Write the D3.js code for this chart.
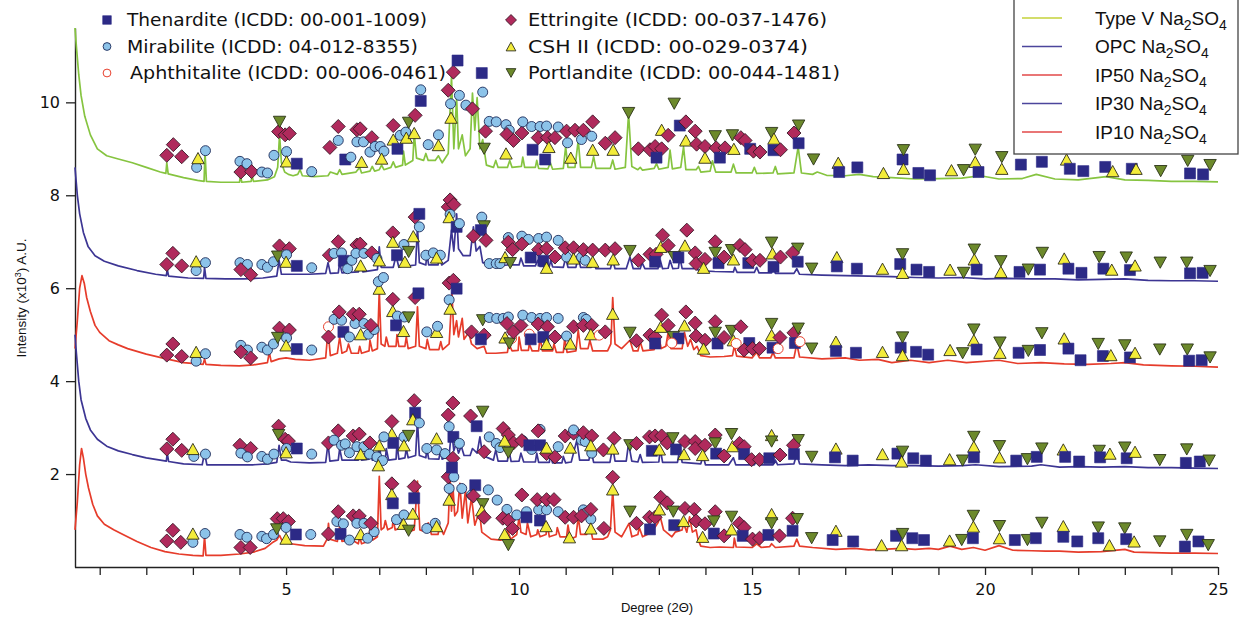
<!DOCTYPE html>
<html><head><meta charset="utf-8">
<script src="https://cdn.jsdelivr.net/npm/d3@7"></script>
<style>body{margin:0;background:#fff}svg{display:block}</style>
</head><body>
<svg id="chart" width="1243" height="623"></svg>
<script>
// ---------- DATA ----------
const xMinorTicks = [1,2,3,4,5,6,7,8,9,10,11,12,13,14,15,16,17,18,19,20,21,22,23,24,25];
const xTickLabels = [5,10,15,20,25];
const yTickLabels = [2,4,6,8,10];

const seriesNames = ["Type V", "OPC", "IP50", "IP30", "IP10"];
const seriesColors = ["#86c440", "#3c3593", "#e63c2b", "#3c3593", "#e63c2b"];
const legendLineColors = ["#c4d23a", "#4b469c", "#e24848", "#4b469c", "#e24848"];

const phaseNames = ["Thenardite (ICDD: 00-001-1009)", "Mirabilite (ICDD: 04-012-8355)", "Aphthitalite (ICDD: 00-006-0461)",
  "Ettringite (ICDD: 00-037-1476)", "CSH II (ICDD: 00-029-0374)", "Portlandite (ICDD: 00-044-1481)"];
const phaseCodes = ["T","M","A","E","C","P"];

const traceTypeV = [[0.47,11.6],[0.5,11.2],[0.55,10.6],[0.6,10.15],[0.68,9.7],[0.8,9.3],[0.95,9.0],[1.15,8.85],[1.4,8.78],[1.7,8.7],[2.0,8.6],[2.3,8.5],[2.42,8.47],[2.44,8.7],[2.47,8.46],[2.8,8.38],[3.1,8.32],[3.24,8.3],[3.26,8.95],[3.29,8.3],[3.6,8.28],[4.0,8.28],[4.02,8.42],[4.05,8.28],[4.25,8.3],[4.27,8.42],[4.3,8.3],[4.6,8.33],[4.75,8.4],[4.82,8.6],[4.86,9.3],[4.9,8.7],[4.97,8.5],[5.05,8.45],[5.15,8.42],[5.25,8.45],[5.3,8.55],[5.35,8.42],[5.6,8.4],[5.9,8.42],[5.95,8.5],[6.1,8.45],[6.15,8.55],[6.2,8.45],[6.5,8.5],[6.58,8.6],[6.62,8.48],[6.8,8.52],[6.85,8.62],[6.9,8.52],[7.0,8.55],[7.05,8.65],[7.1,8.55],[7.25,8.6],[7.3,8.72],[7.35,8.6],[7.5,8.65],[7.52,8.95],[7.56,8.65],[7.72,8.75],[7.75,9.33],[7.8,8.8],[7.95,8.75],[8.0,8.9],[8.05,8.75],[8.2,8.75],[8.27,8.85],[8.35,8.7],[8.48,8.9],[8.55,10.55],[8.6,9.0],[8.66,10.1],[8.7,9.0],[8.78,9.3],[8.85,8.85],[8.95,9.0],[9.0,10.2],[9.05,9.4],[9.1,10.1],[9.16,9.0],[9.22,9.2],[9.3,8.65],[9.45,8.6],[9.5,8.75],[9.55,8.6],[9.75,8.6],[9.8,8.75],[9.85,8.6],[10.05,8.62],[10.08,8.82],[10.12,8.6],[10.35,8.6],[10.38,8.75],[10.42,8.58],[10.62,8.57],[10.67,8.7],[10.72,8.56],[10.95,8.58],[11.0,9.04],[11.05,8.6],[11.2,8.6],[11.27,9.18],[11.32,8.6],[11.55,8.6],[11.6,8.83],[11.65,8.58],[11.96,8.58],[12.01,8.76],[12.06,8.56],[12.28,8.6],[12.35,9.76],[12.42,8.62],[12.55,8.55],[12.6,8.6],[12.65,8.54],[12.9,8.58],[12.95,8.68],[13.0,8.56],[13.2,8.6],[13.24,8.97],[13.29,8.57],[13.47,8.6],[13.53,9.04],[13.58,8.55],[13.8,8.55],[13.85,8.62],[13.9,8.5],[14.1,8.52],[14.15,8.74],[14.22,8.5],[14.55,8.5],[14.6,8.67],[14.66,8.48],[15.0,8.48],[15.05,8.6],[15.1,8.47],[15.45,8.48],[15.5,8.62],[15.55,8.46],[15.9,8.48],[15.99,9.04],[16.06,8.48],[16.3,8.45],[16.4,8.5],[16.6,8.43],[17.0,8.42],[17.3,8.45],[17.6,8.4],[18.0,8.38],[18.5,8.35],[19.0,8.36],[19.5,8.37],[19.9,8.42],[20.3,8.35],[20.8,8.36],[21.1,8.45],[21.5,8.35],[22.0,8.33],[22.6,8.4],[23.0,8.33],[23.5,8.32],[24.0,8.3],[24.5,8.3],[25.0,8.29]];

const traceOPC = [[0.47,8.6],[0.52,8.0],[0.57,7.6],[0.65,7.2],[0.75,6.9],[0.9,6.7],[1.1,6.58],[1.4,6.48],[1.8,6.38],[2.2,6.3],[2.43,6.27],[2.45,6.4],[2.48,6.26],[2.9,6.22],[3.23,6.21],[3.25,6.45],[3.28,6.21],[3.7,6.2],[4.1,6.2],[4.5,6.22],[4.8,6.26],[4.85,6.6],[4.9,6.3],[5.2,6.3],[5.5,6.3],[5.85,6.32],[5.9,6.55],[5.95,6.32],[6.12,6.33],[6.15,6.55],[6.2,6.33],[6.55,6.35],[6.6,6.5],[6.65,6.35],[6.96,6.4],[7.0,6.89],[7.04,6.45],[7.3,6.45],[7.36,6.7],[7.42,6.45],[7.55,6.5],[7.58,6.62],[7.62,6.48],[7.78,6.5],[7.82,7.32],[7.86,6.55],[8.0,6.5],[8.02,6.75],[8.06,6.5],[8.26,6.5],[8.3,6.68],[8.34,6.5],[8.48,6.6],[8.55,7.25],[8.6,6.8],[8.66,7.6],[8.7,6.85],[8.8,6.7],[8.95,6.7],[9.02,7.32],[9.08,6.8],[9.16,6.9],[9.22,6.55],[9.4,6.5],[9.55,6.48],[9.75,6.5],[9.78,6.65],[9.83,6.5],[10.0,6.5],[10.04,6.65],[10.1,6.48],[10.35,6.48],[10.4,6.6],[10.45,6.47],[10.65,6.47],[10.68,6.6],[10.72,6.46],[10.95,6.45],[11.0,6.65],[11.05,6.45],[11.22,6.45],[11.27,6.67],[11.32,6.45],[11.55,6.45],[11.6,6.55],[11.65,6.42],[11.96,6.42],[12.01,6.6],[12.06,6.42],[12.3,6.42],[12.38,6.67],[12.45,6.42],[12.6,6.42],[12.64,6.55],[12.7,6.42],[12.98,6.42],[13.03,6.6],[13.08,6.42],[13.2,6.43],[13.24,6.6],[13.3,6.42],[13.42,6.43],[13.45,6.67],[13.5,6.42],[13.75,6.42],[13.78,6.5],[13.85,6.38],[14.2,6.36],[14.6,6.35],[14.63,6.45],[14.68,6.34],[15.05,6.34],[15.1,6.45],[15.15,6.33],[15.42,6.33],[15.46,6.48],[15.5,6.32],[15.9,6.32],[15.96,6.42],[16.02,6.3],[16.5,6.28],[17.0,6.27],[17.5,6.26],[18.0,6.25],[18.5,6.23],[19.0,6.22],[19.5,6.23],[20.0,6.2],[20.5,6.21],[21.0,6.2],[21.5,6.2],[22.0,6.18],[22.5,6.19],[23.0,6.2],[23.5,6.17],[24.0,6.16],[24.5,6.16],[25.0,6.15]];

const traceIP50 = [[0.47,4.7],[0.52,5.3],[0.57,6.0],[0.62,6.27],[0.67,6.1],[0.72,5.8],[0.8,5.5],[0.9,5.2],[1.0,5.05],[1.2,4.87],[1.4,4.78],[1.6,4.7],[2.0,4.58],[2.43,4.48],[2.45,4.6],[2.48,4.47],[2.8,4.4],[3.22,4.36],[3.25,4.48],[3.28,4.36],[3.6,4.34],[4.0,4.33],[4.3,4.35],[4.6,4.4],[4.64,4.62],[4.68,4.42],[4.85,4.48],[5.0,4.5],[5.2,4.47],[5.5,4.45],[5.85,4.5],[5.9,5.1],[5.95,4.55],[6.1,4.6],[6.15,4.95],[6.2,4.6],[6.3,4.65],[6.34,4.8],[6.4,4.6],[6.55,4.6],[6.58,4.75],[6.62,4.6],[6.78,4.65],[6.8,4.88],[6.85,4.65],[6.96,4.7],[7.0,5.95],[7.04,4.8],[7.12,4.75],[7.15,4.95],[7.2,4.75],[7.36,4.75],[7.38,5.0],[7.42,4.75],[7.55,4.75],[7.58,4.95],[7.62,4.7],[7.78,4.75],[7.82,5.6],[7.86,4.75],[8.0,4.7],[8.03,4.9],[8.08,4.68],[8.28,4.68],[8.32,4.85],[8.36,4.68],[8.5,4.8],[8.56,5.9],[8.6,5.0],[8.66,5.3],[8.7,4.95],[8.78,5.35],[8.82,4.9],[8.92,5.05],[8.98,4.8],[9.1,4.7],[9.25,4.75],[9.3,4.6],[9.5,4.6],[9.75,4.62],[9.78,4.8],[9.85,4.65],[9.98,4.66],[10.0,4.95],[10.05,4.66],[10.2,4.66],[10.22,4.8],[10.28,4.65],[10.42,4.65],[10.45,4.95],[10.5,4.65],[10.72,4.65],[10.75,4.8],[10.8,4.62],[10.95,4.62],[10.98,4.92],[11.03,4.62],[11.22,4.65],[11.27,5.1],[11.32,4.7],[11.48,4.7],[11.52,4.88],[11.58,4.65],[11.9,4.65],[11.97,4.8],[12.01,5.8],[12.06,4.8],[12.2,4.7],[12.38,4.88],[12.45,4.65],[12.55,4.65],[12.6,4.85],[12.66,4.65],[12.9,4.68],[13.0,4.95],[13.05,4.7],[13.15,4.75],[13.2,5.05],[13.26,4.7],[13.5,4.7],[13.55,5.05],[13.62,4.75],[13.68,4.9],[13.75,4.68],[13.82,4.75],[13.9,4.55],[14.1,4.52],[14.4,4.53],[14.58,4.55],[14.62,4.76],[14.67,4.54],[15.0,4.5],[15.1,4.62],[15.16,4.5],[15.4,4.5],[15.45,4.62],[15.5,4.5],[15.9,4.5],[15.96,4.81],[16.02,4.52],[16.5,4.48],[17.0,4.5],[17.3,4.45],[17.7,4.47],[18.0,4.4],[18.4,4.45],[18.8,4.4],[19.2,4.45],[19.6,4.4],[20.3,4.45],[20.7,4.38],[21.2,4.4],[21.7,4.37],[22.2,4.36],[22.7,4.38],[23.0,4.4],[23.4,4.35],[24.0,4.33],[24.5,4.32],[25.0,4.3]];

const traceIP30 = [[0.47,5.0],[0.5,4.6],[0.55,4.0],[0.6,3.6],[0.7,3.2],[0.8,2.95],[0.95,2.75],[1.15,2.6],[1.4,2.5],[1.7,2.42],[2.0,2.35],[2.3,2.3],[2.43,2.28],[2.45,2.45],[2.48,2.27],[2.8,2.22],[3.2,2.2],[3.25,2.45],[3.3,2.2],[3.7,2.2],[4.0,2.2],[4.3,2.2],[4.6,2.22],[4.8,2.25],[4.85,2.62],[4.9,2.3],[5.0,2.3],[5.1,2.26],[5.5,2.24],[5.85,2.25],[5.9,2.66],[5.94,2.28],[6.12,2.3],[6.15,2.55],[6.2,2.3],[6.55,2.3],[6.58,2.5],[6.62,2.3],[6.78,2.32],[6.8,2.55],[6.85,2.3],[6.97,2.3],[7.0,2.66],[7.04,2.32],[7.13,2.3],[7.15,2.55],[7.2,2.3],[7.36,2.32],[7.38,2.66],[7.42,2.32],[7.55,2.35],[7.58,2.55],[7.62,2.35],[7.78,2.4],[7.82,3.16],[7.86,2.4],[8.0,2.35],[8.02,2.55],[8.06,2.33],[8.28,2.32],[8.31,2.5],[8.35,2.32],[8.5,2.4],[8.55,2.95],[8.6,2.5],[8.65,2.66],[8.7,2.45],[8.76,2.6],[8.82,2.4],[8.95,2.4],[9.0,2.55],[9.1,2.45],[9.16,2.8],[9.22,2.4],[9.45,2.3],[9.5,2.52],[9.55,2.28],[9.75,2.28],[9.78,2.52],[9.83,2.27],[10.0,2.28],[10.04,2.45],[10.1,2.26],[10.35,2.26],[10.38,2.45],[10.42,2.25],[10.65,2.25],[10.67,2.4],[10.72,2.24],[10.92,2.24],[10.95,2.38],[11.0,2.24],[11.12,2.26],[11.24,2.73],[11.3,2.3],[11.5,2.3],[11.54,2.55],[11.6,2.25],[11.95,2.25],[12.01,2.59],[12.06,2.28],[12.3,2.28],[12.35,2.66],[12.42,2.28],[12.55,2.26],[12.6,2.42],[12.65,2.25],[13.0,2.26],[13.03,2.55],[13.08,2.25],[13.4,2.25],[13.45,2.55],[13.5,2.25],[13.9,2.22],[13.95,2.4],[14.0,2.2],[14.5,2.2],[14.6,2.35],[14.65,2.2],[15.05,2.2],[15.1,2.3],[15.15,2.2],[15.45,2.2],[15.5,2.3],[15.55,2.2],[15.9,2.22],[15.96,2.44],[16.02,2.22],[16.5,2.2],[17.0,2.18],[17.5,2.2],[18.0,2.18],[18.5,2.18],[19.0,2.17],[19.5,2.18],[19.8,2.2],[20.3,2.16],[21.0,2.17],[21.2,2.2],[21.6,2.15],[22.0,2.16],[22.5,2.15],[23.0,2.16],[23.5,2.14],[24.0,2.14],[24.5,2.13],[25.0,2.12]];

const traceIP10 = [[0.47,0.8],[0.52,1.4],[0.57,2.2],[0.61,2.55],[0.65,2.35],[0.7,2.0],[0.76,1.7],[0.85,1.35],[0.95,1.1],[1.1,0.92],[1.3,0.8],[1.5,0.7],[1.8,0.55],[2.1,0.42],[2.4,0.33],[2.7,0.28],[3.0,0.25],[3.22,0.24],[3.25,0.66],[3.28,0.25],[3.6,0.25],[4.0,0.28],[4.3,0.32],[4.55,0.4],[4.7,0.52],[4.8,0.58],[4.86,0.68],[4.92,0.55],[5.1,0.5],[5.4,0.46],[5.8,0.45],[5.88,0.6],[5.91,0.94],[5.94,0.6],[6.1,0.55],[6.15,0.87],[6.2,0.55],[6.33,0.58],[6.36,0.62],[6.55,0.5],[6.58,0.65],[6.62,0.5],[6.75,0.55],[6.8,0.8],[6.86,0.58],[6.96,0.65],[7.0,1.95],[7.04,0.8],[7.1,0.85],[7.13,1.0],[7.18,0.8],[7.28,0.85],[7.3,1.05],[7.34,0.8],[7.5,0.85],[7.53,0.95],[7.6,0.75],[7.75,0.8],[7.82,1.85],[7.87,0.8],[8.02,0.75],[8.05,0.95],[8.12,0.7],[8.26,0.7],[8.3,0.88],[8.38,0.7],[8.48,0.95],[8.52,1.92],[8.55,1.2],[8.58,1.75],[8.62,1.1],[8.68,1.2],[8.73,1.8],[8.78,1.05],[8.85,1.65],[8.9,0.95],[8.98,1.5],[9.05,0.9],[9.15,1.2],[9.2,0.75],[9.4,0.6],[9.6,0.58],[9.7,0.6],[9.75,0.8],[9.82,0.6],[9.95,0.7],[10.0,1.08],[10.04,0.75],[10.15,0.7],[10.18,0.95],[10.25,0.65],[10.38,0.7],[10.4,0.8],[10.45,0.65],[10.58,0.7],[10.6,0.95],[10.65,0.65],[10.8,0.7],[10.82,0.85],[10.88,0.65],[11.02,0.65],[11.05,0.9],[11.1,0.6],[11.22,0.65],[11.27,1.08],[11.32,0.7],[11.45,0.7],[11.52,0.9],[11.58,0.6],[11.8,0.6],[11.9,0.65],[11.96,0.8],[12.01,1.66],[12.06,0.75],[12.2,0.65],[12.36,0.94],[12.42,0.65],[12.55,0.7],[12.58,0.85],[12.65,0.65],[12.85,0.75],[12.98,0.95],[13.03,1.08],[13.1,0.8],[13.28,0.65],[13.35,0.75],[13.5,0.8],[13.53,0.94],[13.6,0.75],[13.66,1.08],[13.72,0.75],[13.8,0.8],[13.84,0.6],[13.9,0.45],[14.1,0.42],[14.3,0.43],[14.6,0.42],[14.62,0.62],[14.66,0.43],[15.0,0.42],[15.1,0.5],[15.2,0.42],[15.38,0.44],[15.42,0.5],[15.5,0.42],[15.9,0.45],[15.96,0.6],[16.02,0.45],[16.3,0.42],[16.8,0.38],[17.2,0.4],[17.5,0.37],[17.8,0.38],[18.2,0.4],[18.5,0.38],[18.8,0.4],[19.0,0.38],[19.25,0.45],[19.5,0.38],[19.75,0.42],[20.0,0.36],[20.3,0.46],[20.6,0.36],[21.0,0.35],[21.3,0.34],[21.6,0.34],[22.0,0.32],[22.5,0.33],[23.0,0.38],[23.2,0.32],[23.6,0.31],[24.0,0.3],[24.5,0.3],[25.0,0.29]];

// Phase markers per trace: [phase code, degree 2θ, intensity]
const markersTypeV = [["E",2.44,8.86],["E",2.58,9.09],["E",2.76,8.83],["M",3.08,8.6],["C",3.11,8.8],["M",3.27,8.96],["M",4.01,8.73],["M",4.16,8.68],["E",4.03,8.5],["E",4.26,8.51],["M",4.48,8.5],["M",4.6,8.48],["M",4.74,8.86],["E",4.84,9.37],["E",4.98,9.3],["E",5.07,9.33],["P",4.86,9.58],["M",5.01,8.94],["C",5.01,8.73],["T",5.23,8.68],["M",5.55,8.51],
["E",5.94,9.03],["M",6.12,9.18],["E",6.12,9.48],["T",6.27,8.77],["M",6.39,8.82],["M",6.52,9.15],["M",6.66,9.15],["E",6.52,9.41],["E",6.59,9.43],["E",6.84,9.24],["C",6.62,8.72],["M",6.8,8.93],["M",6.91,9.05],["M",7.02,9.05],["M",7.1,8.95],["C",7.05,8.79],["E",7.3,9.5],["C",7.3,9.2],["T",7.39,9.0],["M",7.45,9.29],["M",7.57,9.36],["P",7.63,9.56],["C",7.58,9.24],["E",7.77,9.72],["C",7.75,9.34],["T",7.89,10.03],["M",7.89,10.27],["M",8.05,9.09],["M",8.27,9.3],["C",8.27,9.08],["E",8.48,10.26],["E",8.59,10.65],["T",8.68,10.9],["M",8.53,9.97],["M",8.72,10.15],["C",8.54,9.67],["M",8.86,9.94],["E",9.0,9.86],["M",9.22,10.22],["T",9.2,10.63],["P",9.25,9.0],["E",9.28,9.38],["M",9.36,9.59],["M",9.51,9.58],["M",9.72,9.52],["M",9.79,9.4],["E",9.74,9.31],["E",9.88,9.18],["E",10.06,9.34],["C",9.72,8.9],["M",10.08,9.58],["M",10.27,9.48],["M",10.45,9.48],["M",10.59,9.49],["T",10.29,8.98],["E",10.41,9.24],["E",10.61,9.24],["E",10.77,9.24],["T",10.56,8.77],["C",10.64,9.04],["M",10.84,9.47],["M",11.04,9.13],["E",11.02,9.38],["C",11.11,8.81],
["M",11.34,9.2],["M",11.56,9.27],["E",11.2,9.4],["E",11.38,9.4],["E",11.58,9.58],["C",11.58,8.98],["E",11.85,9.12],["E",12.06,9.24],["C",12.02,8.98],["P",12.35,9.77],["E",12.56,9.0],["E",12.81,8.98],["E",12.92,9.05],["E",13.06,9.0],["T",12.95,8.81],["P",13.33,9.97],["T",13.45,9.5],["E",13.58,9.58],["C",13.06,9.41],["E",13.2,9.29],["C",13.58,9.18],["E",13.78,9.38],["E",13.81,9.1],["E",13.99,9.05],["C",13.99,8.81],["P",14.21,9.27],["E",14.23,9.02],["E",14.42,9.02],["T",14.31,8.81],["P",14.58,9.29],["C",14.61,9.0],["E",14.76,9.24],["E",14.85,9.18],["T",14.96,9.0],["E",15.03,8.95],["E",15.17,8.93],["P",15.42,9.34],["C",15.47,9.22],["T",15.46,8.97],["E",15.61,8.98],["P",16.0,9.5],["E",15.9,9.34],["T",16.0,9.12],["P",16.32,8.77],["C",16.85,8.7],["T",16.87,8.5],["T",17.26,8.6],["C",17.82,8.48],
["T",18.23,8.77],["P",18.25,8.97],["C",18.25,8.57],["T",18.57,8.48],["T",18.82,8.43],["C",19.28,8.54],["P",19.54,8.54],["P",19.79,8.98],["C",19.79,8.72],["T",19.86,8.5],["P",20.36,8.82],["C",20.36,8.57],["T",20.77,8.66],["T",21.22,8.72],["C",21.75,8.77],["T",21.82,8.57],["T",22.11,8.52],["T",22.58,8.61],["C",22.74,8.52],["T",23.15,8.57],["C",23.24,8.57],["P",23.77,8.52],["P",24.35,8.74],["T",24.4,8.47],["T",24.68,8.45],["P",24.83,8.65]];

const markersOPC = [["E",2.44,6.51],["E",2.57,6.75],["E",2.76,6.48],["M",3.07,6.38],["C",3.07,6.58],["M",3.27,6.55],["M",4.01,6.55],["M",4.17,6.51],["E",4.03,6.4],["E",4.24,6.29],["M",4.48,6.51],["M",4.6,6.45],["M",4.73,6.57],["E",4.86,6.91],["E",5.07,6.85],["P",4.82,6.68],["M",5.01,6.72],["C",5.0,6.57],["T",5.23,6.48],["M",5.55,6.44],
["E",5.93,6.71],["E",6.12,7.0],["M",6.03,6.75],["M",6.19,6.76],["T",6.24,6.59],["M",6.32,6.42],["M",6.41,6.6],["E",6.52,6.93],["E",6.59,6.95],["M",6.5,6.75],["M",6.67,6.75],["C",6.6,6.49],["E",6.84,6.76],["M",6.95,6.64],["C",7.0,6.6],["E",7.29,7.19],["C",7.29,7.0],["T",7.38,6.71],["M",7.53,6.94],["P",7.63,6.78],["C",7.55,6.57],["C",7.73,7.12],["E",7.77,7.53],["T",7.86,7.6],["M",7.86,7.32],["M",8.0,6.71],["M",8.16,6.76],["M",8.31,6.71],["C",8.23,6.66],["E",8.48,7.75],["E",8.52,7.9],["E",8.6,7.8],["M",8.52,7.59],["C",8.5,7.53],["T",8.66,7.32],["M",8.72,7.39],["M",9.2,7.53],["P",9.25,7.33],["T",9.18,7.25],["E",9.02,7.12],["E",9.29,7.03],["M",9.36,6.53],["M",9.51,6.53],["M",9.59,6.53],["C",9.7,6.67],["P",9.81,6.54],["M",9.77,7.09],["M",10.06,7.12],["M",10.2,7.05],["M",10.42,7.07],["M",10.59,7.1],["M",10.84,7.03],["E",9.77,6.99],["E",9.86,6.83],["E",10.06,6.95],["E",10.42,6.83],["E",10.59,6.85],["E",10.77,6.67],["T",10.25,6.66],["T",10.52,6.59],["C",10.59,6.44],["M",11.02,6.67],["E",10.99,6.87],["E",11.17,6.87],["C",11.17,6.64],
["M",11.34,6.67],["M",11.42,6.6],["E",11.38,6.83],["E",11.58,6.82],["C",11.58,6.57],["E",11.85,6.82],["E",12.06,6.85],["C",12.02,6.62],["P",12.38,6.8],["E",12.56,6.6],["E",12.81,6.73],["E",12.94,6.73],["T",12.92,6.57],["C",13.04,6.89],["E",13.08,7.14],["E",13.2,6.92],["P",13.33,6.67],["T",13.42,6.66],["C",13.56,6.92],["E",13.6,7.25],["E",13.78,6.76],["E",13.8,6.53],["E",13.99,6.62],["C",13.96,6.44],["E",14.21,7.0],["P",14.21,6.76],["T",14.28,6.54],["E",14.4,6.67],["P",14.56,6.82],["C",14.6,6.62],["E",14.74,6.92],["E",14.85,6.83],["T",14.92,6.54],["E",15.01,6.6],["E",15.17,6.6],["P",15.42,6.98],["C",15.44,6.75],["T",15.46,6.46],["E",15.61,6.67],["P",15.98,6.85],["E",15.87,6.76],["T",15.98,6.57],["P",16.28,6.42],["C",16.82,6.67],["T",16.82,6.47],["T",17.25,6.42],["C",17.8,6.42],
["T",18.18,6.52],["P",18.23,6.73],["C",18.23,6.33],["T",18.53,6.4],["T",18.8,6.35],["C",19.25,6.4],["P",19.54,6.33],["P",19.77,6.83],["C",19.77,6.62],["T",19.82,6.4],["P",20.34,6.58],["C",20.34,6.35],["T",20.74,6.35],["P",20.93,6.4],["T",21.18,6.4],["P",21.23,6.76],["C",21.7,6.64],["T",21.79,6.42],["T",22.07,6.33],["P",22.45,6.67],["T",22.54,6.42],["C",22.72,6.4],["P",23.03,6.66],["T",23.11,6.39],["C",23.22,6.49],["P",23.76,6.55],["P",24.33,6.55],["T",24.4,6.32],["T",24.67,6.33],["P",24.83,6.37]];

const markersIP50 = [["E",2.44,4.56],["E",2.57,4.8],["E",2.76,4.53],["M",3.07,4.43],["C",3.07,4.63],["M",3.27,4.59],["M",4.03,4.77],["M",4.17,4.67],["E",4.03,4.63],["E",4.24,4.5],["M",4.48,4.73],["M",4.6,4.67],["M",4.73,4.8],["E",4.86,5.14],["E",5.07,5.1],["P",4.82,4.93],["M",5.01,4.93],["C",5.0,4.77],["T",5.23,4.69],["M",5.55,4.67],
["A",5.91,5.17],["E",5.91,4.95],["M",6.03,5.33],["M",6.19,5.31],["E",6.14,5.49],["T",6.23,5.06],["M",6.36,4.95],["M",6.48,5.24],["M",6.67,5.24],["E",6.44,5.44],["E",6.57,5.44],["C",6.6,5.01],["M",6.77,5.01],["M",6.89,5.11],["E",6.82,5.2],["C",7.0,5.99],["M",6.98,6.14],["M",7.09,6.23],["E",7.29,5.76],["C",7.29,5.51],["M",7.39,5.4],["M",7.54,5.38],["P",7.63,5.37],["T",7.36,5.2],["C",7.52,5.08],["E",7.77,5.8],["T",7.84,5.89],["M",8.5,5.75],["C",8.52,5.56],["E",8.5,6.11],["E",8.59,6.17],["T",8.66,5.99],["M",8.02,5.06],["C",8.23,5.06],["M",8.25,5.18],["P",9.22,5.31],["M",9.36,5.37],["M",9.52,5.35],["M",9.66,5.35],["E",8.98,5.06],["E",9.25,4.99],["T",9.18,4.9],["A",9.84,4.92],["C",9.7,4.94],["P",9.79,4.81],["M",9.77,5.38],["E",9.74,5.24],["E",9.88,5.06],["E",10.04,5.2],["M",10.08,5.42],["M",10.27,5.37],["M",10.45,5.35],["M",10.59,5.37],["M",10.84,5.35],["A",10.22,5.01],["T",10.25,4.9],["E",10.41,5.23],["E",10.61,5.17],["E",10.77,4.95],["T",10.52,4.95],["C",10.59,4.8],["M",11.02,4.97],["E",11.17,5.17],["C",11.1,4.81],
["M",11.38,5.37],["M",11.44,5.33],["E",11.38,5.2],["E",11.56,5.2],["C",11.54,5.01],["A",11.72,4.99],["E",11.85,5.06],["C",12.01,5.45],["P",12.38,5.04],["E",12.52,4.87],["E",12.81,4.99],["E",12.92,4.95],["T",12.92,4.81],["E",13.06,5.42],["C",13.04,5.17],["E",13.2,5.2],["P",13.31,4.95],["T",13.42,4.92],["A",13.28,4.82],["E",13.58,5.49],["C",13.55,5.2],["E",13.78,5.25],["E",13.8,4.97],["E",13.99,4.88],["C",13.96,4.7],["E",14.21,5.28],["P",14.21,5.04],["T",14.26,4.81],["E",14.4,4.94],["P",14.56,5.08],["C",14.6,4.88],["A",14.66,4.81],["E",14.76,5.17],["T",14.94,4.82],["E",14.83,4.67],["E",15.01,4.7],["E",15.16,4.7],["P",15.42,5.23],["C",15.42,4.99],["T",15.44,4.72],["A",15.56,4.7],["E",15.6,4.94],["E",15.9,5.04],["P",15.99,5.13],["T",15.92,4.82],["A",16.03,4.85],["P",16.28,4.7],["C",16.8,4.85],["T",16.8,4.65],["T",17.23,4.61],["C",17.8,4.63],
["T",18.19,4.72],["P",18.23,4.94],["C",18.23,4.56],["T",18.52,4.63],["T",18.78,4.57],["C",19.25,4.67],["P",19.52,4.6],["P",19.76,5.11],["C",19.76,4.88],["T",19.82,4.68],["P",20.32,4.83],["C",20.32,4.61],["T",20.72,4.61],["P",20.93,4.65],["T",21.18,4.67],["P",21.22,5.03],["C",21.7,4.92],["T",21.79,4.7],["T",22.05,4.45],["P",22.43,4.8],["T",22.53,4.54],["C",22.7,4.56],["P",23.0,4.77],["T",23.11,4.51],["C",23.22,4.61],["P",23.75,4.68],["P",24.34,4.68],["T",24.38,4.44],["T",24.65,4.45],["P",24.83,4.51]];

const markersIP30 = [["E",2.44,2.54],["E",2.57,2.75],["E",2.76,2.51],["M",3.02,2.38],["C",3.0,2.54],["M",3.27,2.43],["E",4.01,2.62],["E",4.24,2.55],["M",4.03,2.45],["M",4.17,2.37],["M",4.48,2.38],["M",4.6,2.32],["M",4.74,2.43],["E",4.84,3.03],["P",4.84,2.84],["E",4.98,2.75],["E",5.05,2.71],["M",5.01,2.55],["C",5.0,2.47],["T",5.23,2.55],["M",5.55,2.43],
["E",5.91,2.67],["E",6.12,2.93],["M",6.03,2.73],["M",6.19,2.62],["M",6.27,2.65],["M",6.36,2.46],["E",6.44,2.82],["E",6.57,2.86],["M",6.52,2.59],["M",6.67,2.59],["C",6.6,2.43],["E",6.8,2.67],["M",6.79,2.43],["M",6.95,2.37],["M",7.07,2.29],["C",7.0,2.62],["C",6.98,2.19],["E",7.27,3.13],["C",7.27,2.87],["T",7.3,2.67],["M",7.1,2.8],["M",7.53,2.8],["P",7.63,2.82],["C",7.53,2.62],["E",7.75,3.58],["T",7.77,3.32],["C",7.72,3.18],["M",7.86,3.1],["M",8.02,2.55],["M",8.23,2.52],["C",8.23,2.77],["M",8.41,2.44],["E",8.58,3.53],["E",8.48,3.27],["M",8.5,3.02],["T",8.59,2.8],["M",8.72,2.66],["E",8.96,3.25],["P",9.22,3.34],["T",9.09,3.03],["M",9.36,2.8],["M",9.51,2.66],["M",9.59,2.57],["E",9.25,2.48],["M",9.77,2.77],["M",10.08,2.72],["M",10.27,2.53],["M",10.45,2.96],["E",9.66,2.98],["E",9.77,2.84],["E",9.88,2.67],["E",10.06,2.72],["E",10.41,2.93],["E",10.59,2.44],["E",10.77,2.37],["C",9.69,2.72],["P",9.77,2.46],["T",10.22,2.62],["T",10.45,2.62],["C",10.59,2.57],["M",10.84,2.59],["E",10.99,2.82],["E",11.17,2.88],["C",11.1,2.57],["M",11.17,2.95],
["M",11.34,2.73],["M",11.42,2.7],["M",11.56,2.45],["E",11.38,2.89],["E",11.56,2.82],["C",11.54,2.62],["E",11.81,2.52],["E",12.04,2.77],["C",12.01,2.55],["P",12.38,2.62],["E",12.52,2.66],["E",12.8,2.8],["E",12.92,2.82],["E",13.06,2.82],["T",12.85,2.5],["C",13.01,2.53],["E",13.18,2.67],["P",13.3,2.77],["T",13.37,2.53],["E",13.56,2.7],["E",13.78,2.7],["E",13.78,2.55],["E",13.99,2.62],["C",13.54,2.43],["C",13.94,2.41],["E",14.21,2.84],["P",14.21,2.66],["T",14.23,2.44],["E",14.4,2.39],["P",14.56,2.86],["C",14.58,2.6],["E",14.73,2.66],["E",14.83,2.59],["T",14.83,2.43],["E",14.99,2.31],["E",15.16,2.31],["T",15.37,2.34],["C",15.42,2.84],["P",15.42,2.7],["E",15.6,2.41],["P",15.99,2.73],["E",15.89,2.62],["T",15.9,2.43],["P",16.28,2.37],["C",16.8,2.55],["T",16.78,2.36],["T",17.16,2.29],["C",17.8,2.43],
["T",18.12,2.44],["P",18.23,2.48],["C",18.21,2.27],["T",18.46,2.34],["T",18.73,2.29],["C",19.24,2.32],["P",19.52,2.29],["P",19.76,2.8],["C",19.76,2.59],["T",19.76,2.36],["P",20.31,2.6],["C",20.31,2.36],["T",20.67,2.29],["P",20.91,2.32],["T",21.11,2.37],["P",21.22,2.55],["C",21.68,2.53],["T",21.72,2.37],["T",22.02,2.27],["P",22.45,2.5],["T",22.47,2.36],["C",22.68,2.44],["P",23.0,2.57],["T",23.04,2.34],["C",23.22,2.48],["P",23.75,2.3],["P",24.33,2.53],["T",24.31,2.24],["T",24.61,2.27],["P",24.81,2.29]];

const markersIP10 = [["E",2.44,0.56],["E",2.57,0.79],["E",2.74,0.53],["M",3.0,0.53],["C",3.0,0.72],["M",3.26,0.72],["M",4.01,0.7],["M",4.16,0.64],["E",4.03,0.42],["E",4.23,0.42],["M",4.48,0.66],["M",4.58,0.61],["M",4.73,0.7],["E",4.81,1.04],["E",4.94,1.04],["E",5.05,0.98],["P",4.8,0.81],["M",5.0,0.85],["C",5.0,0.61],["T",5.21,0.7],["M",5.53,0.7],
["E",5.91,0.71],["M",6.09,0.98],["M",6.23,0.93],["E",6.12,1.19],["T",6.17,0.71],["M",6.36,0.58],["E",6.44,1.1],["E",6.57,1.1],["M",6.52,0.94],["M",6.67,0.94],["C",6.6,0.71],["M",6.75,0.62],["M",6.89,0.76],["E",6.82,0.94],["E",7.27,1.79],["C",7.27,1.57],["T",7.29,1.37],["M",7.37,1.02],["M",7.53,1.12],["C",7.52,0.93],["P",7.63,0.78],["C",7.72,1.15],["E",7.75,1.73],["T",7.75,1.48],["M",8.02,0.83],["M",8.2,0.94],["C",8.23,0.88],["C",8.5,1.45],["M",8.5,1.69],["E",8.48,1.94],["M",8.6,1.94],["E",8.58,2.34],["T",8.56,2.14],["M",8.77,1.69],["M",8.98,1.55],["T",9.06,1.76],["E",9.02,1.53],["M",9.34,1.66],["P",9.22,1.35],["C",9.2,1.22],["E",9.25,1.07],["M",9.53,1.44],["M",9.74,1.24],["E",9.65,1.05],["E",9.77,1.0],["E",9.86,0.83],["E",10.06,1.55],["C",9.69,0.71],["P",9.77,0.47],["M",9.95,1.12],["M",10.16,1.19],["M",10.42,1.23],["M",10.59,1.23],["T",10.16,1.07],["T",10.45,1.0],["E",10.39,1.45],["E",10.59,1.45],["E",10.75,1.45],["C",10.58,0.88],["M",10.84,1.19],["E",10.99,1.07],["E",11.17,1.07],["C",11.08,0.64],
["M",11.38,1.23],["M",11.44,1.17],["M",11.54,1.03],["E",11.34,1.1],["E",11.54,1.24],["C",11.54,0.83],["E",11.82,0.83],["C",12.01,1.67],["E",12.01,1.93],["P",12.38,1.19],["E",12.52,0.94],["E",12.8,1.07],["E",12.92,1.07],["T",12.81,0.81],["C",13.01,1.24],["E",13.04,1.5],["E",13.18,1.38],["P",13.31,1.19],["T",13.33,0.9],["E",13.56,1.26],["E",13.76,1.24],["E",13.8,0.99],["E",13.99,0.93],["C",13.53,0.99],["C",13.94,0.65],["E",14.21,1.19],["P",14.18,0.98],["T",14.18,0.72],["E",14.4,0.67],["P",14.56,1.08],["C",14.56,0.81],["E",14.73,0.94],["E",14.83,0.85],["T",14.8,0.67],["E",15.01,0.6],["E",15.16,0.62],["T",15.35,0.69],["C",15.42,1.14],["P",15.42,0.94],["E",15.59,0.67],["E",15.87,1.05],["P",15.97,1.03],["T",15.87,0.78],["P",16.28,0.62],["C",16.8,0.78],["T",16.73,0.58],["T",17.17,0.55],["C",17.78,0.47],
["T",18.09,0.67],["P",18.23,0.71],["C",18.21,0.47],["T",18.44,0.62],["T",18.69,0.58],["C",19.24,0.57],["P",19.5,0.58],["P",19.75,1.1],["C",19.75,0.87],["T",19.74,0.62],["P",20.31,0.88],["C",20.31,0.62],["T",20.64,0.58],["P",20.91,0.58],["T",21.09,0.62],["P",21.22,0.95],["C",21.68,0.88],["T",21.68,0.65],["T",21.98,0.55],["P",22.43,0.85],["T",22.43,0.62],["C",22.67,0.47],["P",23.0,0.83],["T",23.03,0.6],["C",23.2,0.55],["P",23.75,0.55],["P",24.33,0.69],["T",24.29,0.44],["T",24.58,0.55],["P",24.79,0.47]];

const traces = [traceTypeV, traceOPC, traceIP50, traceIP30, traceIP10];
const markerSets = [markersTypeV, markersOPC, markersIP50, markersIP30, markersIP10];

// ---------- DRAWING ----------
const svg = d3.select("#chart");
const x = d3.scaleLinear().domain([0.47, 25]).range([75, 1218]);
const y = d3.scaleLinear().domain([0, 11.6]).range([567, 28]);

const markerStyle = {
  T: {fill:"#2c2a86", stroke:"#2c2a86", sw:0.6},
  M: {fill:"#8cc3e9", stroke:"#1f2d5a", sw:0.9},
  A: {fill:"#ffffff", stroke:"#e8402e", sw:1.0},
  E: {fill:"#b02a5c", stroke:"#3a1a28", sw:0.9},
  C: {fill:"#f3ec3a", stroke:"#2b2b1a", sw:0.9},
  P: {fill:"#6c892b", stroke:"#2b3318", sw:0.9}
};
function markerPath(code, s) {
  const p = d3.path();
  if (code === "T") { const h = 5.5*s; p.rect(-h,-h,2*h,2*h); }
  else if (code === "M" || code === "A") { p.arc(0,0,5*s,0,2*Math.PI); }
  else if (code === "E") { const h = 7*s; p.moveTo(0,-h); p.lineTo(h,0); p.lineTo(0,h); p.lineTo(-h,0); p.closePath(); }
  else if (code === "C") { const w = 6.2*s, h = 5.6*s; p.moveTo(0,-h); p.lineTo(w,h); p.lineTo(-w,h); p.closePath(); }
  else if (code === "P") { const w = 6.2*s, h = 5.6*s; p.moveTo(0,h); p.lineTo(w,-h); p.lineTo(-w,-h); p.closePath(); }
  return p.toString();
}

// axes
const xAxis = d3.axisBottom(x).tickValues(xMinorTicks).tickSize(8).tickSizeOuter(0).tickPadding(9)
  .tickFormat(d => xTickLabels.includes(d) ? d : "");
const gx = svg.append("g").attr("transform","translate(0,567)").call(xAxis);
const yAxis = d3.axisLeft(y).tickValues(yTickLabels).tickSize(9).tickSizeOuter(0).tickPadding(6);
const gy = svg.append("g").attr("transform","translate(75,0)").call(yAxis);
[gx, gy].forEach(g => {
  g.select(".domain").attr("stroke","#222").attr("stroke-width",1.4);
  g.selectAll(".tick line").attr("stroke","#222").attr("stroke-width",1.3);
  g.selectAll(".tick text").attr("fill","#111").style("font-family","'DejaVu Sans', Verdana, sans-serif").style("font-size","16px");
});
gx.select(".domain").attr("d", `M${x.range()[0]},0.5H${x.range()[1]}`);

// axis titles
svg.append("text").attr("x", 657).attr("y", 612).attr("text-anchor","middle")
  .style("font-family","'Liberation Sans', Arial, sans-serif").style("font-size","13px").attr("fill","#111")
  .text("Degree (2\u0398)");
const yt = svg.append("text").attr("transform","translate(26,298) rotate(-90)").attr("text-anchor","middle")
  .style("font-family","'Liberation Sans', Arial, sans-serif").style("font-size","13.5px").attr("fill","#111");
yt.append("tspan").text("Intensity (x10");
yt.append("tspan").attr("dy",-5).style("font-size","9px").text("3");
yt.append("tspan").attr("dy",5).text(") A.U.");

// traces
const line = d3.line().x(d => x(d[0])).y(d => y(d[1]));
svg.append("g").selectAll("path.trace").data(traces).join("path")
  .attr("class","trace").attr("d", line).attr("fill","none")
  .attr("stroke",(d,i)=>seriesColors[i]).attr("stroke-width",1.7).attr("stroke-linejoin","round");

// markers
const gm = svg.append("g");
markerSets.forEach(set => {
  gm.append("g").selectAll("path").data(set).join("path")
    .attr("transform", d => `translate(${x(d[1])},${y(d[2])})`)
    .attr("d", d => markerPath(d[0], 1))
    .attr("fill", d => markerStyle[d[0]].fill)
    .attr("stroke", d => markerStyle[d[0]].stroke)
    .attr("stroke-width", d => markerStyle[d[0]].sw);
});

// phase legend (top)
const legendCols = [{mx:107, tx:127}, {mx:511, tx:528}];
const legendRows = [20, 46.5, 73];
const legendWidths = [300, 291, 316, 299, 280, 312];
phaseCodes.forEach((c,i) => {
  const col = legendCols[Math.floor(i/3)], ry = legendRows[i%3];
  const st = markerStyle[c];
  svg.append("path").attr("transform",`translate(${col.mx},${ry})`).attr("d", markerPath(c, 0.78))
    .attr("fill",st.fill).attr("stroke",st.stroke).attr("stroke-width",st.sw);
  svg.append("text").attr("x", col.tx + (c==="A"?3:0)).attr("y", ry).attr("dy","0.36em")
    .style("font-family","'DejaVu Sans', Verdana, sans-serif").style("font-size","18px").attr("fill","#111")
    .attr("textLength", legendWidths[i]).attr("lengthAdjust","spacingAndGlyphs")
    .text(phaseNames[i]);
});

// series legend box
svg.append("rect").attr("x",1014).attr("y",-2).attr("width",224).attr("height",156)
  .attr("fill","#fff").attr("stroke","#444").attr("stroke-width",1.3);
const seriesRows = [18, 46.5, 75, 103.5, 132];
seriesNames.forEach((n,i) => {
  const ry = seriesRows[i];
  svg.append("line").attr("x1",1022).attr("x2",1062).attr("y1",ry).attr("y2",ry)
    .attr("stroke",legendLineColors[i]).attr("stroke-width",1.3);
  const t = svg.append("text").attr("x",1095).attr("y",ry).attr("dy","0.36em")
    .style("font-family","'Liberation Sans', Arial, sans-serif").style("font-size","19px").attr("fill","#111");
  t.append("tspan").text(n + " Na");
  t.append("tspan").attr("dy",5).style("font-size","14px").text("2");
  t.append("tspan").attr("dy",-5).text("SO");
  t.append("tspan").attr("dy",5).style("font-size","14px").text("4");
});
</script>
</body></html>
